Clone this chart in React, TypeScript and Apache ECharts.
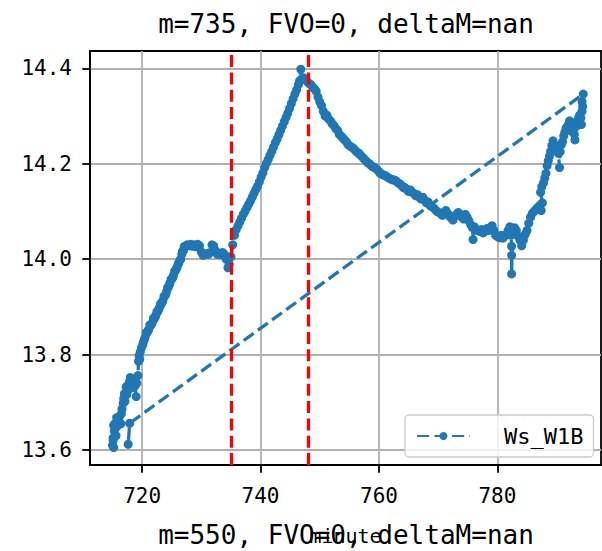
import React, { useEffect, useRef } from "react";
import * as echarts from "echarts";

const xTicks = [720, 740, 760, 780];
const yTicks = [13.6, 13.8, 14.0, 14.2, 14.4];
const markerMinutes = [735, 748];
const titleText = "m=735, FVO=0, deltaM=nan";
const footerText = "m=550, FVO=0, deltaM=nan";
const xLabel = "minute";
const seriesName = "Ws_W1B";

// [minute, value] pairs, in plotting order
const earlyRise: [number, number][] = [
  [715.0, 13.61], [715.1, 13.625], [715.2, 13.605], [715.1, 13.62], [715.3, 13.64], [715.2, 13.652],
  [715.4, 13.655], [715.6, 13.63], [715.5, 13.646], [715.8, 13.65], [715.7, 13.668], [716.0, 13.662],
  [716.2, 13.67], [716.4, 13.655], [716.5, 13.676], [716.6, 13.686], [716.8, 13.698], [716.9, 13.708],
  [717.0, 13.718], [717.1, 13.702], [717.3, 13.732], [717.4, 13.716], [717.5, 13.722], [717.7, 13.738],
  [717.9, 13.744], [718.0, 13.752], [718.2, 13.73], [718.4, 13.748], [718.5, 13.742], [718.8, 13.734],
  [719.0, 13.712], [719.1, 13.74], [719.3, 13.756], [719.4, 13.786], [719.5, 13.798], [719.6, 13.79],
  [719.7, 13.806], [719.9, 13.815], [720.1, 13.82], [720.2, 13.826], [720.4, 13.832], [720.5, 13.836],
  [720.7, 13.846], [720.8, 13.845], [721.0, 13.85], [721.1, 13.852], [721.3, 13.862], [721.4, 13.86],
  [721.6, 13.864], [721.7, 13.866], [721.9, 13.876], [722.0, 13.874], [722.2, 13.878], [722.3, 13.882],
  [722.5, 13.89], [722.6, 13.889], [722.8, 13.894], [722.9, 13.898], [723.1, 13.906], [723.2, 13.905],
  [723.4, 13.91], [723.5, 13.913], [723.7, 13.922], [723.8, 13.922], [724.0, 13.926], [724.1, 13.931],
  [724.3, 13.94], [724.4, 13.94], [724.6, 13.946], [724.7, 13.95], [724.9, 13.958], [725.0, 13.958],
  [725.2, 13.962], [725.3, 13.966], [725.5, 13.975], [725.6, 13.975], [725.8, 13.98], [725.9, 13.983],
  [726.1, 13.99], [726.2, 13.992], [726.4, 13.998], [726.5, 14.0], [726.7, 14.01], [726.8, 14.016],
  [727.0, 14.018], [727.1, 14.026], [727.3, 14.027],
];

const plateau: [number, number][] = [
  [727.6, 14.03], [727.9, 14.028], [728.2, 14.031], [728.5, 14.027], [728.8, 14.03], [729.1, 14.026],
  [729.4, 14.031], [729.7, 14.028], [730.0, 14.015], [730.3, 14.008], [730.6, 14.01], [730.9, 14.012],
  [731.2, 14.01], [731.5, 14.014], [731.8, 14.03], [732.1, 14.028], [732.4, 14.018], [732.7, 14.01],
  [733.0, 14.012], [733.3, 14.009], [733.6, 14.014], [733.9, 14.01], [734.2, 14.0], [734.5, 13.982],
  [734.7, 13.99], [735.0, 14.005], [735.3, 14.03], [735.6, 14.05],
];

const mainRise: [number, number][] = [
  [735.9, 14.062], [736.2, 14.07], [736.5, 14.078], [736.8, 14.086], [737.1, 14.094], [737.4, 14.101],
  [737.7, 14.108], [738.0, 14.115], [738.3, 14.122], [738.6, 14.13], [738.9, 14.138], [739.2, 14.146],
  [739.5, 14.153], [739.8, 14.162], [740.1, 14.172], [740.4, 14.181], [740.7, 14.192], [741.0, 14.201],
  [741.3, 14.209], [741.6, 14.218], [741.9, 14.226], [742.2, 14.235], [742.5, 14.244], [742.8, 14.252],
  [743.1, 14.261], [743.4, 14.27], [743.7, 14.279], [744.0, 14.288], [744.3, 14.297], [744.6, 14.306],
  [744.9, 14.316], [745.2, 14.326], [745.5, 14.336], [745.8, 14.346], [746.1, 14.355], [746.4, 14.366],
  [746.6, 14.374], [746.8, 14.398], [747.0, 14.378], [747.3, 14.38], [747.6, 14.376], [747.9, 14.372],
  [748.2, 14.368],
];

const decay: [number, number][] = [
  [748.5, 14.366], [748.8, 14.36], [749.1, 14.357], [749.4, 14.352], [749.7, 14.34], [750.0, 14.33],
  [750.3, 14.322], [750.6, 14.31], [750.9, 14.3], [751.2, 14.302], [751.5, 14.294], [751.8, 14.29],
  [752.1, 14.284], [752.4, 14.28], [752.7, 14.274], [753.0, 14.27], [753.3, 14.262], [753.6, 14.258],
  [753.9, 14.254], [754.2, 14.25], [754.5, 14.246], [754.8, 14.24], [755.1, 14.237], [755.4, 14.235],
  [755.7, 14.232], [756.0, 14.228], [756.3, 14.224], [756.6, 14.222], [756.9, 14.218], [757.2, 14.214],
  [757.5, 14.21], [757.8, 14.206], [758.1, 14.202], [758.4, 14.2], [758.7, 14.196], [759.0, 14.193],
  [759.3, 14.192], [759.6, 14.189], [759.9, 14.185], [760.2, 14.18], [760.5, 14.178], [760.8, 14.176],
  [761.1, 14.175], [761.4, 14.172], [761.7, 14.17], [762.0, 14.168], [762.3, 14.166], [762.6, 14.166],
  [762.9, 14.164], [763.2, 14.16], [763.5, 14.158], [763.8, 14.155], [764.1, 14.15], [764.4, 14.15],
  [764.7, 14.146], [765.0, 14.142], [765.3, 14.145], [765.6, 14.14], [765.9, 14.138], [766.2, 14.133],
  [766.5, 14.135], [766.8, 14.13], [767.1, 14.126], [767.4, 14.13], [767.7, 14.124], [768.0, 14.118],
  [768.3, 14.12], [768.6, 14.113], [768.9, 14.11], [769.2, 14.108], [769.5, 14.104], [769.8, 14.1],
  [770.1, 14.098], [770.4, 14.096],
];

const trough: [number, number][] = [
  [770.7, 14.092], [771.0, 14.098], [771.3, 14.102], [771.6, 14.096], [771.9, 14.09], [772.2, 14.086],
  [772.5, 14.082], [772.8, 14.09], [773.1, 14.094], [773.4, 14.098], [773.7, 14.094], [774.0, 14.088],
  [774.3, 14.084], [774.6, 14.094], [774.9, 14.088], [775.2, 14.08], [775.5, 14.072], [775.8, 14.066],
  [775.9, 14.041], [776.1, 14.068], [776.4, 14.062], [776.7, 14.06], [777.0, 14.058], [777.3, 14.062],
  [777.6, 14.055], [777.9, 14.058], [778.2, 14.064], [778.5, 14.06], [778.8, 14.066], [779.1, 14.07],
  [779.4, 14.06], [779.7, 14.05], [780.0, 14.048], [780.3, 14.045], [780.6, 14.05], [780.9, 14.044],
  [781.2, 14.048], [781.5, 14.052], [781.8, 14.06], [782.1, 14.068], [782.3, 14.05], [782.4, 14.027],
  [782.4, 14.008], [782.4, 13.969], [782.6, 14.06], [782.9, 14.066], [783.2, 14.06], [783.5, 14.048],
  [783.8, 14.04], [784.1, 14.028], [784.4, 14.04], [784.7, 14.052], [785.0, 14.06], [785.3, 14.075],
  [785.6, 14.088], [785.9, 14.096], [786.2, 14.1], [786.5, 14.104], [786.8, 14.108], [787.1, 14.112],
  [787.4, 14.102], [787.6, 14.118],
];

const lateRise: [number, number][] = [
  [787.3, 14.14], [787.5, 14.152], [787.8, 14.16], [788.0, 14.17], [788.2, 14.18], [788.4, 14.196],
  [788.6, 14.206], [788.8, 14.216], [789.0, 14.226], [789.2, 14.238], [789.4, 14.248], [789.6, 14.24],
  [789.8, 14.232], [790.0, 14.236], [790.3, 14.222], [790.5, 14.192], [790.6, 14.225], [790.8, 14.24],
  [791.0, 14.246], [791.2, 14.258], [791.4, 14.266], [791.6, 14.275], [791.8, 14.272], [792.0, 14.282],
  [792.2, 14.29], [792.4, 14.284], [792.6, 14.268], [792.8, 14.276], [793.0, 14.262], [793.1, 14.25],
  [793.3, 14.278], [793.5, 14.29], [793.7, 14.296], [793.9, 14.302], [794.1, 14.296], [794.2, 14.282],
  [794.3, 14.31], [794.4, 14.32], [794.3, 14.33], [794.5, 14.346],
];

// rows logged after the end, wrapping back to the start
const wrapTail: [number, number][] = [
  [717.9, 13.656], [717.65, 13.612],
];

const BLUE = "#1f77b4";
const MONO = '"DejaVu Sans Mono", monospace';

export default function App() {
  const ref = useRef<HTMLDivElement>(null);

  useEffect(() => {
    if (!ref.current) return;
    const chart = echarts.init(ref.current, null, { renderer: "svg" });
    const points = [...earlyRise, ...plateau, ...mainRise, ...decay, ...trough, ...lateRise, ...wrapTail];

    chart.setOption({
      animation: false,
      backgroundColor: "#ffffff",
      grid: {
        left: 90,
        right: 1,
        top: 51,
        bottom: 79,
        show: true,
        borderColor: "#000000",
        borderWidth: 1.8,
        backgroundColor: "transparent",
      },
      legend: {
        show: true,
        left: 405,
        top: 415,
        padding: [10, 10, 10, 11],
        backgroundColor: "rgba(255,255,255,0.8)",
        borderColor: "#cccccc",
        borderWidth: 1.3,
        borderRadius: 4,
        itemWidth: 53,
        itemHeight: 10,
        textStyle: { fontFamily: MONO, fontSize: 22, color: "#000000", padding: [0, 0, 0, 29] },
        data: [seriesName],
      },
      xAxis: {
        type: "value",
        min: 711.2,
        max: 797.5,
        name: xLabel,
        nameLocation: "middle",
        nameGap: 61,
        nameTextStyle: { fontFamily: MONO, fontSize: 20, color: "#000000" },
        axisLine: { show: true, onZero: false, lineStyle: { color: "#000000", width: 1.8 } },
        axisTick: { show: true, length: 7.7, customValues: xTicks, lineStyle: { color: "#000000", width: 1.8 } },
        axisLabel: { customValues: xTicks, margin: 20, fontFamily: MONO, fontSize: 21, color: "#000000" },
        splitLine: { show: true, lineStyle: { color: "#b0b0b0", width: 1.8 } },
      },
      yAxis: {
        type: "value",
        min: 13.5685,
        max: 14.4363,
        axisLine: { show: true, onZero: false, lineStyle: { color: "#000000", width: 1.8 } },
        axisTick: { show: true, length: 7.7, customValues: yTicks, lineStyle: { color: "#000000", width: 1.8 } },
        axisLabel: {
          customValues: yTicks,
          margin: 18,
          fontFamily: MONO,
          fontSize: 21,
          color: "#000000",
          formatter: (v: number) => v.toFixed(1),
        },
        splitLine: { show: true, lineStyle: { color: "#b0b0b0", width: 1.8 } },
      },
      series: [
        {
          name: seriesName,
          type: "line",
          data: points,
          symbol: "circle",
          symbolSize: 9,
          showAllSymbol: true,
          itemStyle: { color: BLUE },
          lineStyle: { color: BLUE, width: 3.3, type: [12.2, 5.3] },
          emphasis: { disabled: true },
          markLine: {
            silent: true,
            symbol: ["none", "none"],
            label: { show: false },
            lineStyle: { color: "#ff0000", width: 3.3, type: [12, 5.3] },
            emphasis: { disabled: true },
            data: markerMinutes.map((m) => ({ xAxis: m })),
          },
        },
      ],
      graphic: [
        {
          type: "text",
          x: 346,
          y: 24,
          style: {
            text: titleText,
            font: `26px ${MONO}`,
            fill: "#000000",
            align: "center",
            verticalAlign: "middle",
            textAlign: "center",
            textVerticalAlign: "middle",
          },
        },
        {
          type: "text",
          x: 346,
          y: 535,
          style: {
            text: footerText,
            font: `26px ${MONO}`,
            fill: "#000000",
            align: "center",
            verticalAlign: "middle",
            textAlign: "center",
            textVerticalAlign: "middle",
          },
        },
      ],
    });

    return () => chart.dispose();
  }, []);

  return <div ref={ref} style={{ position: "absolute", left: 0, top: 0, width: 602, height: 551 }} />;
}
